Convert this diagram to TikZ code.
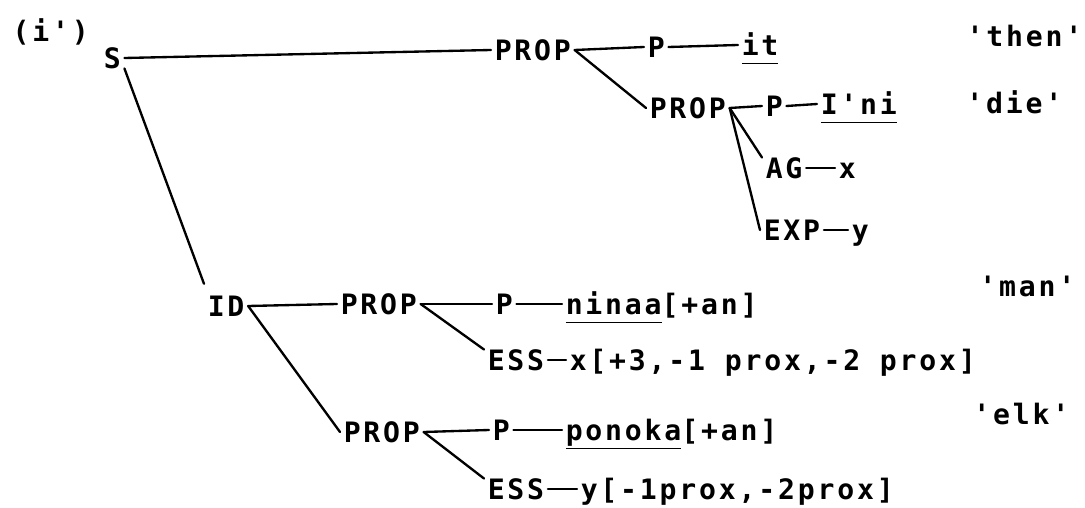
\documentclass[tikz,border=0pt]{standalone}
\usepackage{fontspec}
\newfontfamily\typewr{DejaVu Sans Mono}[LetterSpace=10]
\usepackage{tikz}

\newcommand\undl[1]{\underline{#1\vphantom{gp}}}

\tikzset{
  lab/.style={anchor=west,inner xsep=3pt,inner ysep=0pt,text height=17.5pt,text depth=0pt,
    font=\typewr\bfseries\fontsize{24}{28}\selectfont},
  gloss/.style={lab,anchor=east},
  br/.style={line width=2pt,line cap=round}
}

\begin{document}
\begin{tikzpicture}[x=0.03cm,y=-0.03cm]
    \useasboundingbox (0,0) rectangle (1085,508);

    % Example number and root
    \node[lab] (num) at (9,31) {(i')};
    \node[lab] (s) at (100,58) {S};

    % Upper half
    \node[lab] (prop1) at (491,50) {PROP};
    \node[lab] (pa) at (644,47) {P};
    \node[lab] (it) at (738,45) {\undl{it}};
    \node[gloss] (then) at (1086,36) {'then'};

    \node[lab] (prop2) at (646,108) {PROP};
    \node[lab] (pb) at (762,106) {P};
    \node[lab] (ini) at (817,104) {\undl{I'ni}};
    \node[gloss] (die) at (1066,103) {'die'};

    \node[lab] (ag) at (762,168) {AG};
    \node[lab] (xa) at (835,168) {x};
    \node[lab] (exp) at (760,230) {EXP};
    \node[lab] (ya) at (848,230) {y};

    % Lower half
    \node[lab] (id) at (204,306) {ID};

    \node[lab] (prop3) at (337,304) {PROP};
    \node[lab] (pc) at (492,304) {P};
    \node[lab] (ninaa) at (562,304) {\undl{ninaa}[+an]};
    \node[gloss] (man) at (1079,286) {'man'};
    \node[lab] (ess1) at (484,360) {ESS};
    \node[lab] (xb) at (566,360) {x[+3,-1 prox,-2 prox]};

    \node[lab] (prop4) at (340,432) {PROP};
    \node[lab] (pd) at (489,430) {P};
    \node[lab] (ponoka) at (562,430) {\undl{ponoka}[+an]};
    \node[gloss] (elk) at (1073,414) {'elk'};
    \node[lab] (ess2) at (484,489) {ESS};
    \node[lab] (yb) at (577,489) {y[-1prox,-2prox]};

    % Branches
    \draw[br] (s.east) -- (prop1.west);
    \draw[br] (s.south east) -- ([yshift=10pt]id.north west);

    \draw[br] (prop1.east) -- (pa.west);
    \draw[br] (pa.east) -- (it.west);
    \draw[br] (prop1.east) -- (prop2.west);

    \draw[br] (prop2.east) -- (pb.west);
    \draw[br] (pb.east) -- (ini.west);
    \draw[br] (prop2.east) -- (ag.north west);
    \draw[br] (prop2.east) -- (exp.west);
    \draw[br] (ag.east) -- (xa.west);
    \draw[br] (exp.east) -- (ya.west);

    \draw[br] (id.east) -- (prop3.west);
    \draw[br] (id.east) -- (prop4.west);

    \draw[br] (prop3.east) -- (pc.west);
    \draw[br] (pc.east) -- (ninaa.west);
    \draw[br] (prop3.east) -- (ess1.north west);
    \draw[br] (ess1.east) -- (xb.west);

    \draw[br] (prop4.east) -- (pd.west);
    \draw[br] (pd.east) -- (ponoka.west);
    \draw[br] (prop4.east) -- (ess2.north west);
    \draw[br] (ess2.east) -- (yb.west);
\end{tikzpicture}
\end{document}
